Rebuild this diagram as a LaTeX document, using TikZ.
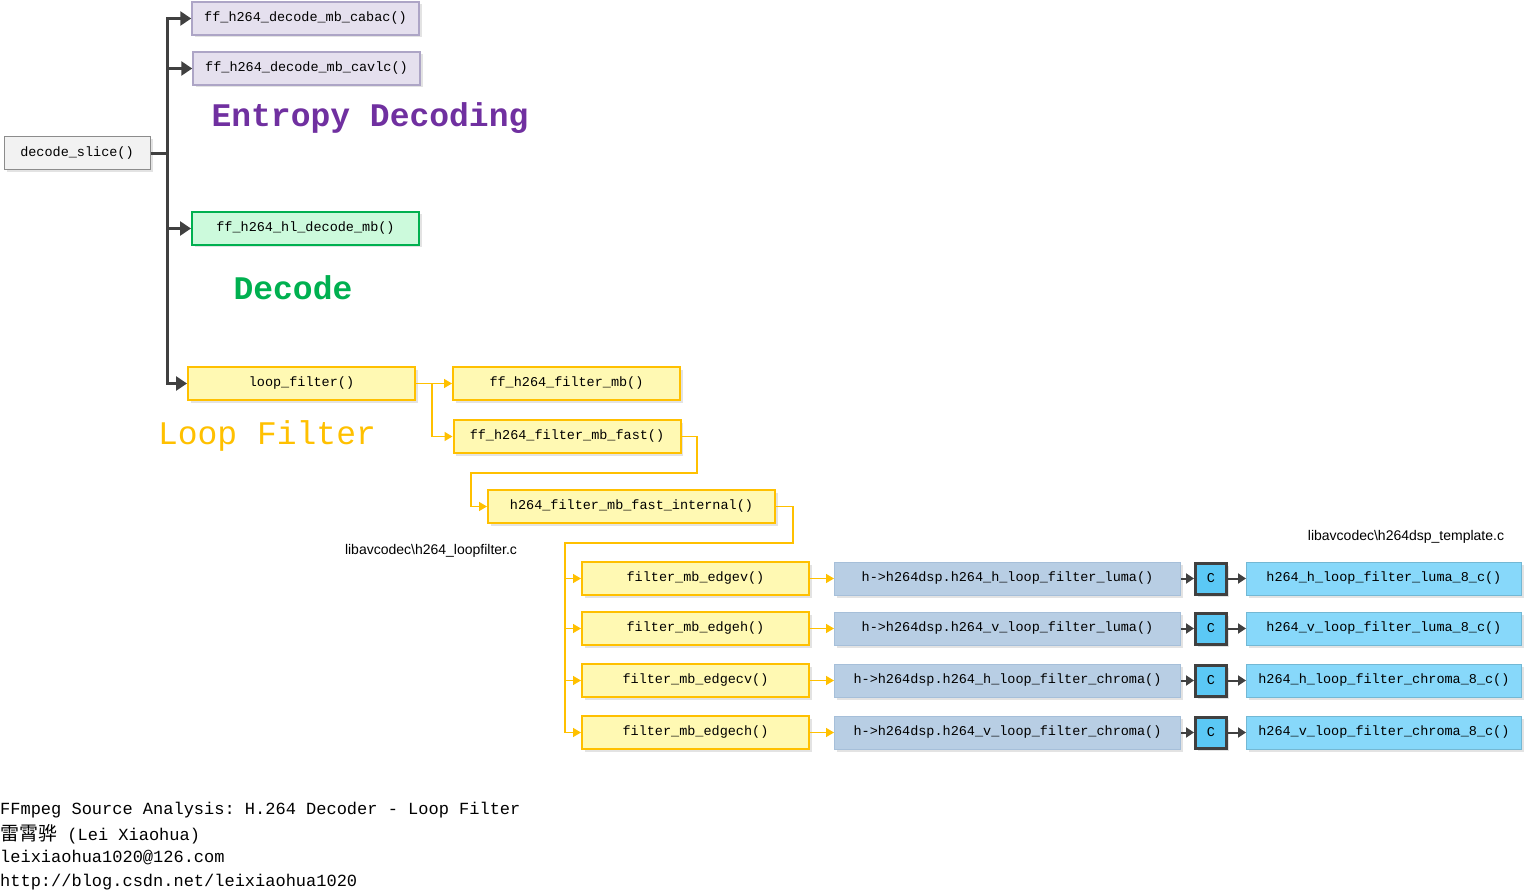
\documentclass[tikz,border=0pt]{standalone}
\usepackage{fontspec}
\setmainfont{Liberation Serif}
\setsansfont{Liberation Sans}
\setmonofont{Liberation Mono}
\newfontfamily\cjk{Noto Sans CJK SC}
\usetikzlibrary{positioning}
\usetikzlibrary{shadows}
\usetikzlibrary{arrows.meta}

\definecolor{darkline}{HTML}{404040}
\definecolor{yline}{HTML}{FFC000}
\definecolor{yfill}{HTML}{FFF9B3}
\definecolor{gfill}{HTML}{F2F2F2}
\definecolor{gline}{HTML}{8C8C8C}
\definecolor{lfill}{HTML}{E5E0EE}
\definecolor{lline}{HTML}{ADA5C6}
\definecolor{grfill}{HTML}{CCFADC}
\definecolor{grline}{HTML}{00B050}
\definecolor{bfill}{HTML}{B8CEE4}
\definecolor{bline}{HTML}{A6BFD9}
\definecolor{cfill}{HTML}{5BC8F5}
\definecolor{cyfill}{HTML}{87D8FA}
\definecolor{purptext}{HTML}{7030A0}
\definecolor{greentext}{HTML}{00B050}

\newcommand{\fnfont}{\ttfamily\fontsize{13.5}{16}\selectfont}

\begin{document}
\begin{tikzpicture}
	[x=1pt, y=-1pt, node distance={26pt},
	main/.style = {draw, minimum width=227pt, minimum height=33pt, inner sep=0pt, font=\fnfont,
		drop shadow={shadow xshift=2.5pt, shadow yshift=-2.5pt, fill=black!22}},
	graybox/.style = {main, fill=gfill, draw=gline, line width=1pt},
	lilacbox/.style = {main, fill=lfill, draw=lline, line width=1.5pt},
	greenbox/.style = {main, fill=grfill, draw=grline, line width=2pt},
	yellowbox/.style = {main, fill=yfill, draw=yline, line width=2pt},
	bluebox/.style = {main, fill=bfill, draw=bline, line width=1pt, minimum width=346pt},
	cbox/.style = {main, fill=cfill, draw=darkline, line width=3pt, minimum width=31pt, minimum height=31pt},
	cyanbox/.style = {main, fill=cyfill, draw=cyfill!85!black, line width=0.8pt, minimum width=275pt},
	dk/.style = {draw=darkline, line width=3pt},
	dka/.style = {dk, -{Triangle[length=11pt,width=14pt]}},
	ya/.style = {draw=yline, line width=1.5pt, -{Triangle[length=8pt,width=9pt]}},
	da/.style = {draw=darkline, line width=2pt, -{Triangle[length=8pt,width=10pt]}},
	big/.style = {inner sep=0pt, font=\ttfamily\fontsize{33}{36}\selectfont},
	file/.style = {inner sep=0pt, font=\sffamily\fontsize{14}{16}\selectfont}]
	\useasboundingbox (0,0) rectangle (1527,896);

	% decode_slice and its callees
	\node[graybox, minimum width=146pt] (1) at (77,153.5) {decode\_slice()};
	\node[lilacbox] (2) at (305.5,18.5) {ff\_h264\_decode\_mb\_cabac()};
	\node[lilacbox] (3) at (306.5,68.5) {ff\_h264\_decode\_mb\_cavlc()};
	\node[greenbox] (4) at (305.5,228.5) {ff\_h264\_hl\_decode\_mb()};
	\node[yellowbox] (5) at (301.5,383.5) {loop\_filter()};

	\node[big, text=purptext, font=\ttfamily\bfseries\fontsize{33}{36}\selectfont] (e) at (370,118) {Entropy Decoding};
	\node[big, text=greentext, font=\ttfamily\bfseries\fontsize{33}{36}\selectfont] (d) at (293,288) {Decode};
	\node[big, text=yline] (f) at (267,436) {Loop Filter};

	% loop filter chain
	\node[yellowbox] (6) [right = 36pt of 5] {ff\_h264\_filter\_mb()};
	\node[yellowbox] (7) at (567,436.5) {ff\_h264\_filter\_mb\_fast()};
	\node[yellowbox, minimum width=287pt] (8) at (631.5,506.5) {h264\_filter\_mb\_fast\_internal()};

	\node[yellowbox] (9) at (695.5,578.5) {filter\_mb\_edgev()};
	\node[yellowbox] (10) at (695.5,628.5) {filter\_mb\_edgeh()};
	\node[yellowbox] (11) at (695.5,680.5) {filter\_mb\_edgecv()};
	\node[yellowbox] (12) at (695.5,732.5) {filter\_mb\_edgech()};

	\node[bluebox] (13) [right = 24pt of 9] {h->h264dsp.h264\_h\_loop\_filter\_luma()};
	\node[bluebox] (14) [right = 24pt of 10] {h->h264dsp.h264\_v\_loop\_filter\_luma()};
	\node[bluebox] (15) [right = 24pt of 11] {h->h264dsp.h264\_h\_loop\_filter\_chroma()};
	\node[bluebox] (16) [right = 24pt of 12] {h->h264dsp.h264\_v\_loop\_filter\_chroma()};

	\node[cbox] (17) [right = 13pt of 13] {C};
	\node[cbox] (18) [right = 13pt of 14] {C};
	\node[cbox] (19) [right = 13pt of 15] {C};
	\node[cbox] (20) [right = 13pt of 16] {C};

	\node[cyanbox] (21) [right = 18pt of 17] {h264\_h\_loop\_filter\_luma\_8\_c()};
	\node[cyanbox] (22) [right = 18pt of 18] {h264\_v\_loop\_filter\_luma\_8\_c()};
	\node[cyanbox] (23) [right = 18pt of 19] {h264\_h\_loop\_filter\_chroma\_8\_c()};
	\node[cyanbox] (24) [right = 18pt of 20] {h264\_v\_loop\_filter\_chroma\_8\_c()};

	\node[file] (l1) at (431,551) {libavcodec\textbackslash h264\_loopfilter.c};
	\node[file] (l2) at (1406,537) {libavcodec\textbackslash h264dsp\_template.c};

	% trunk from decode_slice
	\coordinate (a) at (167,153.5);
	\draw[dk] (1.east) -- (a);
	\draw[dk, {Triangle[length=11pt,width=14pt]}-{Triangle[length=11pt,width=14pt]}] (2.west) -- (2.west -| a) -- (5.west -| a) -- (5.west);
	\draw[dka] (3.west -| a) -- (3.west);
	\draw[dka] (4.west -| a) -- (4.west);

	% yellow connectors
	\coordinate (c1) at (432,383.5);
	\coordinate (k1) at (697,473);
	\coordinate (k2) at (471,473);
	\coordinate (k3) at (793,543);
	\coordinate (k4) at (565,543);
	\draw[ya] (5) -- (6);
	\draw[ya] (c1) |- (7.west);
	\draw[ya] (7.east) -| (k1) -- (k2) |- (8.west);
	\draw[ya] (8.east) -| (k3) -- (k4) |- (12.west);
	\draw[ya] (k4 |- 9.west) -- (9.west);
	\draw[ya] (k4 |- 10.west) -- (10.west);
	\draw[ya] (k4 |- 11.west) -- (11.west);

	\draw[ya] (9) -- (13);
	\draw[ya] (10) -- (14);
	\draw[ya] (11) -- (15);
	\draw[ya] (12) -- (16);

	\draw[da] (13) -- (17);
	\draw[da] (14) -- (18);
	\draw[da] (15) -- (19);
	\draw[da] (16) -- (20);
	\draw[da] (17) -- (21);
	\draw[da] (18) -- (22);
	\draw[da] (19) -- (23);
	\draw[da] (20) -- (24);

	% credits
	\node[anchor=west, inner sep=0pt, font=\ttfamily\fontsize{17}{20}\selectfont] (t1) at (0,810) {FFmpeg Source Analysis: H.264 Decoder - Loop Filter};
	\node[anchor=west, inner sep=0pt, font=\ttfamily\fontsize{17}{20}\selectfont] (t2) at (0,834) {{\cjk\fontsize{19}{20}\selectfont 雷霄骅} (Lei Xiaohua)};
	\node[anchor=west, inner sep=0pt, font=\ttfamily\fontsize{17}{20}\selectfont] (t3) at (0,858) {leixiaohua1020@126.com};
	\node[anchor=west, inner sep=0pt, font=\ttfamily\fontsize{17}{20}\selectfont] (t4) at (0,882) {http://blog.csdn.net/leixiaohua1020};

\end{tikzpicture}
\end{document}
